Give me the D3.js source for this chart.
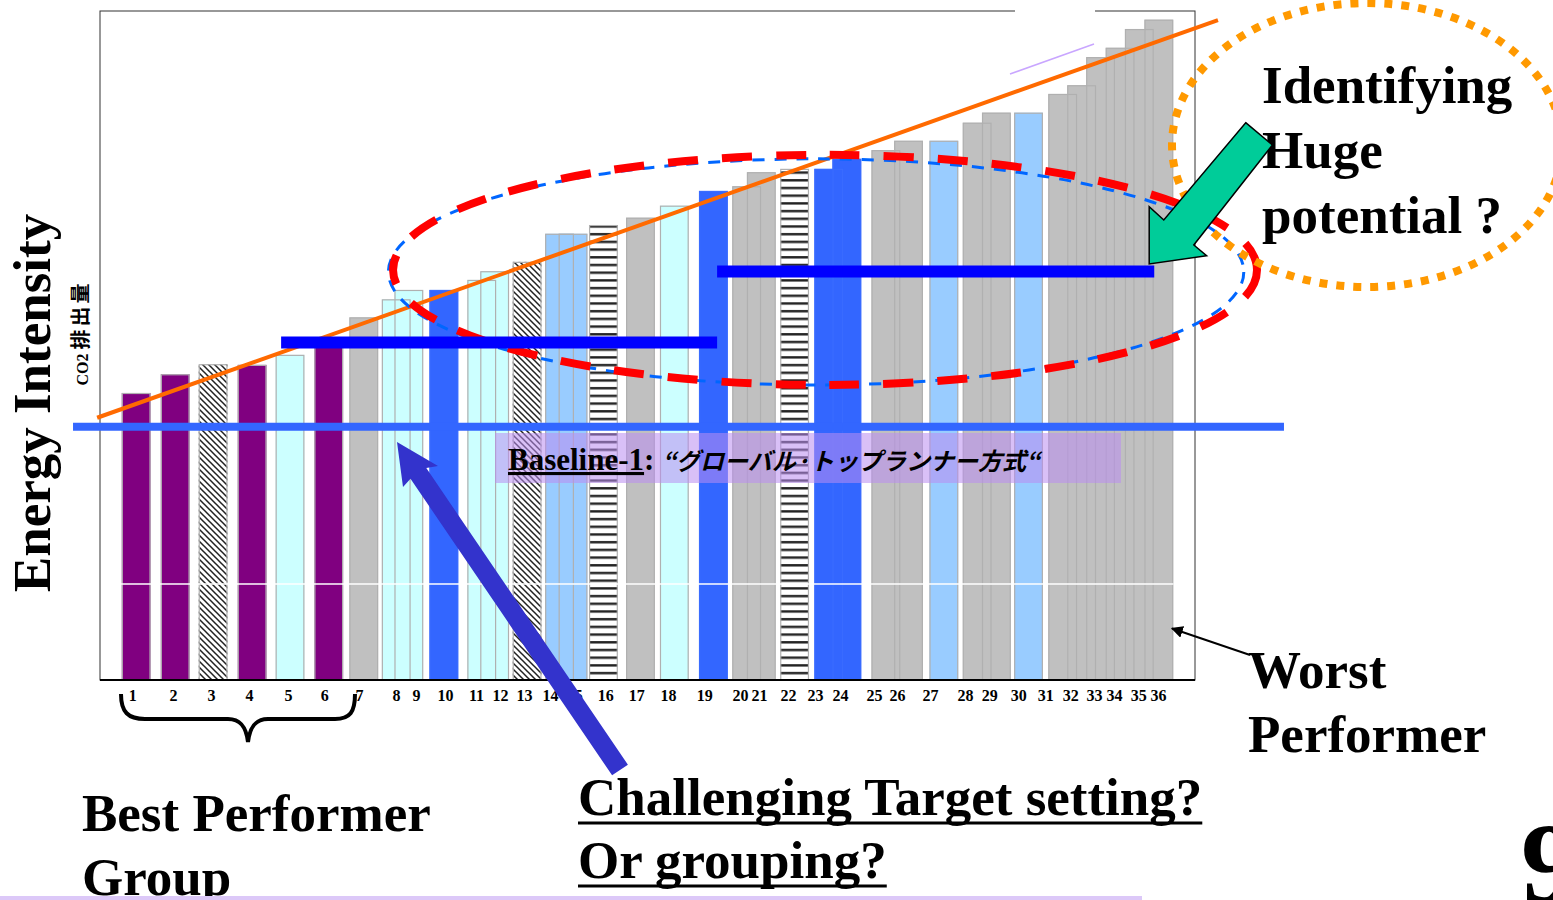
<!DOCTYPE html>
<html lang="en">
<head>
<meta charset="utf-8">
<title>Energy Intensity - Global Top Runner</title>
<script src="https://d3js.org/d3.v7.min.js"></script>
<style>
  body { margin: 0; background: #fff; }
  svg { display: block; }
  .serif { font-family: "Liberation Serif", "Times New Roman", serif; font-weight: bold; }
  .big { font-size: 53px; }
  .tick text { font-family: "Liberation Serif", serif; font-weight: bold; font-size: 16px; fill: #000; }
</style>
</head>
<body>
<svg width="1553" height="900"></svg>
<script>
// firms ranked from best to worst performer
const firms = ["1","2","3","4","5","6","7","8","9","10","11","12","13","14","15","16","17","18",
               "19","20","21","22","23","24","25","26","27","28","29","30","31","32","33","34","35","36"];

// energy (CO2) intensity, relative units
const intensity = [42.9, 45.7, 47.2, 47.1, 48.6, 50.2, 54.2, 56.9, 58.3, 58.3, 59.8, 61.1,
                   62.5, 66.7, 66.7, 68.0, 69.1, 70.9, 73.1, 73.8, 75.9, 76.4, 76.4, 77.9,
                   79.2, 80.6, 80.6, 83.3, 84.8, 84.8, 87.6, 88.9, 93.1, 94.5, 97.3, 98.7];

// slot of each firm along the ranking axis (bar units)
const slot = [0.76, 2.12, 3.44, 4.80, 6.12, 7.47, 8.69, 9.82, 10.26, 11.48, 12.80, 13.25,
              14.38, 15.51, 15.98, 17.04, 18.33, 19.51, 20.87, 22.03, 22.54, 23.70, 24.89, 25.52,
              26.88, 27.67, 28.90, 30.06, 30.73, 31.85, 33.04, 33.70, 34.36, 35.04, 35.71, 36.39];

// where each firm's number label sits on the same axis
const labelSlot = [1.12, 2.54, 3.87, 5.19, 6.55, 7.81, 9.02, 10.31, 11.01, 12.02, 13.10, 13.94,
                   14.77, 15.68, 16.52, 17.60, 18.68, 19.79, 21.05, 22.30, 22.96, 23.97, 24.91, 25.78,
                   26.97, 27.77, 28.92, 30.14, 30.98, 31.99, 32.93, 33.80, 34.63, 35.33, 36.17, 36.86];

// group of each firm (decides the fill)
const group = ["P","P","D","P","C","P","G","C","C","B","C","C","D","L","L","S","G","C",
               "B","G","G","S","B","B","G","G","L","G","G","L","G","G","G","G","G","G"];

const baselineValue = 37.86;                 // Baseline-1
const targetFrom  = [6.31, 21.50];           // group target lines
const targetTo    = [21.50, 36.73];
const targetValue = [50.45, 61.06];
const trendX = [-0.1, 38.95];                // orange trend line
const trendY = [39.2, 98.65];

const fills = { P: "#800080", C: "#CCFFFF", G: "#C0C0C0", B: "#3366FF",
                L: "#99CCFF", D: "url(#diag)", S: "url(#stripes)" };

const svg = d3.select("svg");

const x = d3.scaleLinear().domain([0, 38.15]).range([100, 1195]);
const y = d3.scaleLinear().domain([0, 100]).range([680, 11]);
const barW = x(1) - x(0);

// patterns
const defs = svg.append("defs");
const diag = defs.append("pattern").attr("id", "diag")
    .attr("patternUnits", "userSpaceOnUse").attr("width", 6).attr("height", 6);
diag.append("rect").attr("width", 6).attr("height", 6).attr("fill", "#fff");
diag.append("path").attr("d", "M-1,-1L7,7M-4,2L2,8M2,-4L8,2")
    .attr("stroke", "#222").attr("stroke-width", 1.5);
const stripes = defs.append("pattern").attr("id", "stripes")
    .attr("patternUnits", "userSpaceOnUse").attr("width", 8).attr("height", 7.7);
stripes.append("rect").attr("width", 8).attr("height", 7.7).attr("fill", "#fff");
stripes.append("rect").attr("y", 2).attr("width", 8).attr("height", 2.4).attr("fill", "#222");

defs.append("marker").attr("id", "head").attr("viewBox", "0 0 10 10")
    .attr("refX", 9).attr("refY", 5).attr("markerWidth", 6).attr("markerHeight", 6)
    .attr("orient", "auto")
  .append("path").attr("d", "M0,0L10,5L0,10z").attr("fill", "#000");

// bars: fills right to left so the better firm stays in front, then all outlines
const idx = d3.range(firms.length);
svg.append("g").selectAll("rect")
    .data(idx.slice().reverse())
    .join("rect")
    .attr("x", i => x(slot[i]))
    .attr("y", i => y(intensity[i]))
    .attr("width", barW)
    .attr("height", i => y(0) - y(intensity[i]))
    .attr("fill", i => fills[group[i]]);

svg.append("g").selectAll("rect")
    .data(idx)
    .join("rect")
    .attr("x", i => x(slot[i]) + 0.5)
    .attr("y", i => y(intensity[i]) + 0.5)
    .attr("width", barW - 1)
    .attr("height", i => y(0) - y(intensity[i]) - 0.5)
    .attr("fill", "none")
    .attr("stroke", i => group[i] === "B" ? "#3a6cff" : "#b0b0b0")
    .attr("stroke-width", 1.2);

// white gridline across the bars
svg.append("line")
    .attr("x1", x(0.7)).attr("x2", x(37.4))
    .attr("y1", y(14.35)).attr("y2", y(14.35))
    .attr("stroke", "#fff").attr("stroke-width", 1.5);

// frame
svg.append("rect")
    .attr("x", x(0)).attr("y", y(100))
    .attr("width", x(38.15) - x(0)).attr("height", y(0) - y(100))
    .attr("fill", "none").attr("stroke", "#333").attr("stroke-width", 1);
svg.append("rect").attr("x", 1015).attr("y", 8).attr("width", 80).attr("height", 6).attr("fill", "#fff");
svg.append("line")
    .attr("x1", x(0)).attr("x2", x(38.15)).attr("y1", y(0)).attr("y2", y(0))
    .attr("stroke", "#000").attr("stroke-width", 2);

// x axis labels
const axis = d3.axisBottom(x)
    .tickValues(labelSlot)
    .tickFormat((d, i) => firms[i])
    .tickSizeInner(0).tickSizeOuter(0).tickPadding(10);
svg.append("g").attr("transform", `translate(0,${y(0)})`).call(axis)
    .call(g => g.select(".domain").remove());

// faint purple line top right
svg.append("line").attr("x1", 1010).attr("y1", 74).attr("x2", 1094).attr("y2", 44)
    .attr("stroke", "#c9a6ff").attr("stroke-width", 1.5);

// trend line
svg.append("line")
    .attr("x1", x(trendX[0])).attr("y1", y(trendY[0]))
    .attr("x2", x(trendX[1])).attr("y2", y(trendY[1]))
    .attr("stroke", "#ff6a00").attr("stroke-width", 4);

// Baseline-1
svg.append("line")
    .attr("x1", x(-0.94)).attr("x2", x(41.25))
    .attr("y1", y(baselineValue)).attr("y2", y(baselineValue))
    .attr("stroke", "#3366ff").attr("stroke-width", 8);

svg.append("rect")
    .attr("x", 495).attr("y", 433).attr("width", 626).attr("height", 50)
    .attr("fill", "#b98cf0").attr("opacity", 0.55);

const bl = svg.append("text").attr("x", 508).attr("y", 470).attr("class", "serif")
    .style("font-size", "31px");
bl.append("tspan").text("Baseline-1").style("text-decoration", "underline");
bl.append("tspan").text(": ");
bl.append("tspan").text("“グローバル·トップランナー方式“")
    .style("font-family", "'Noto Sans CJK JP', sans-serif")
    .style("font-style", "italic").style("font-weight", "bold")
    .style("font-size", "24px");

// ellipses
svg.append("ellipse")
    .attr("cx", x(24.95)).attr("cy", y(61.0))
    .attr("rx", x(14.9) - x(0)).attr("ry", y(0) - y(16.9))
    .attr("fill", "none").attr("stroke", "#0066ff").attr("stroke-width", 3)
    .attr("stroke-dasharray", "12 10");
svg.append("ellipse")
    .attr("cx", x(25.26)).attr("cy", y(61.3))
    .attr("rx", x(15.05) - x(0)).attr("ry", y(0) - y(17.2))
    .attr("fill", "none").attr("stroke", "#ff0000").attr("stroke-width", 8)
    .attr("stroke-dasharray", "30 24");

// group target lines
svg.append("g").selectAll("line")
    .data(targetValue)
    .join("line")
    .attr("x1", (d, i) => x(targetFrom[i]))
    .attr("x2", (d, i) => x(targetTo[i]))
    .attr("y1", d => y(d)).attr("y2", d => y(d))
    .attr("stroke", "#0000ff").attr("stroke-width", 12);

// orange dotted ellipse
svg.append("ellipse")
    .attr("cx", 1367).attr("cy", 145).attr("rx", 195).attr("ry", 142)
    .attr("fill", "none").attr("stroke", "#ff9900").attr("stroke-width", 8)
    .attr("stroke-dasharray", "8 9");

// texts
const tx = (px, py, lines, lh) => {
  const t = svg.append("text").attr("class", "serif big").attr("x", px).attr("y", py);
  lines.forEach((l, i) => t.append("tspan").attr("x", px).attr("y", py + i * lh).text(l));
  return t;
};
tx(1262, 103, ["Identifying", "Huge", "potential ?"], 65);
tx(1248, 688, ["Worst", "Performer"], 64);
tx(82, 831, ["Best Performer", "Group"], 64);
const ch = tx(578, 815, ["Challenging Target setting?", "Or grouping?"], 63);
ch.selectAll("tspan").each(function(d, i) {
  const w = this.getComputedTextLength();
  svg.append("line").attr("x1", 578).attr("x2", 578 + w)
      .attr("y1", 823 + i * 63).attr("y2", 823 + i * 63)
      .attr("stroke", "#000").attr("stroke-width", 3);
});

svg.append("text").attr("class", "serif")
    .attr("transform", "translate(50,403) rotate(-90)")
    .attr("text-anchor", "middle").style("font-size", "53px")
    .text("Energy Intensity");

const co = svg.append("text").attr("class", "serif")
    .attr("transform", "translate(88,333) rotate(-90)")
    .attr("text-anchor", "middle").style("font-size", "16px");
co.append("tspan").text("CO2 ");
co.append("tspan").text("排出量")
    .style("font-family", "'Noto Sans CJK JP', sans-serif").style("font-size", "20px")
    .style("letter-spacing", "3px");

svg.append("text").attr("class", "serif").attr("x", 1521).attr("y", 902)
    .style("font-size", "115px").text("9");

// brace under the best performers
svg.append("path")
    .attr("d", "M121,694C121,712 128,719 145,719L228,719C240,719 246,726 248,742" +
               "C250,726 256,719 268,719L335,719C350,719 355,712 355,694")
    .attr("fill", "none").attr("stroke", "#000").attr("stroke-width", 4);

// arrows
svg.append("polygon")
    .attr("points", [[1245.7,122.7],[1272.4,145],[1193.8,245],[1206.6,255.7],
                     [1149.2,264],[1149.2,206.7],[1163.8,220]].join(" "))
    .attr("fill", "#00cc99").attr("stroke", "#000").attr("stroke-width", 1.5);

svg.append("polygon")
    .attr("points", [[397,442],[403,487],[410.5,478.7],[612.1,775.3],
                     [627.9,764.7],[426.3,468.1],[438,466]].join(" "))
    .attr("fill", "#3333cc");

svg.append("line").attr("x1", 1250).attr("y1", 655).attr("x2", 1172).attr("y2", 628.5)
    .attr("stroke", "#000").attr("stroke-width", 2).attr("marker-end", "url(#head)");

// lavender strip at bottom
svg.append("rect").attr("x", 0).attr("y", 896).attr("width", 1142).attr("height", 4)
    .attr("fill", "#dcc8f8");
</script>
</body>
</html>
